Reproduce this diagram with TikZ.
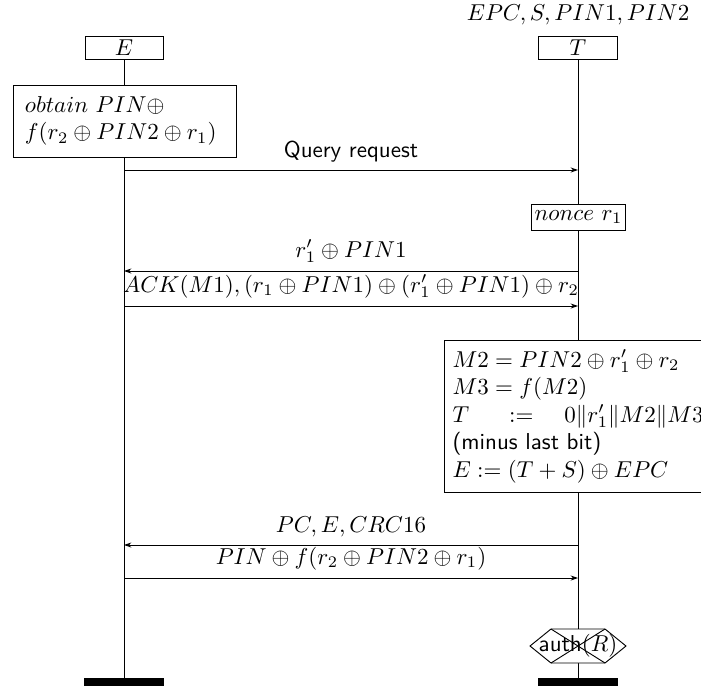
\documentclass[tikz,border=0pt]{standalone}
\usetikzlibrary{arrows.meta}
\tikzset{
  msg/.style={draw, line width=0.4pt, -{Stealth[length=3.2pt,width=2.2pt,inset=1pt]}},
  life/.style={line width=0.4pt},
  inst/.style={draw, fill=white, inner sep=0pt, line width=0.4pt},
  act/.style={draw, fill=white, line width=0.4pt, align=left},
  bar/.style={fill=black},
}
\begin{document}
\begin{tikzpicture}[x=0.435pt,y=-0.435pt]
\clip (0,0) rectangle (701,685);
% header
\node (hdr) at (578,15) {$EPC,S,PIN1,PIN2$};
% instance heads
\node[inst, minimum width=33.9pt, minimum height=10.4pt] (E) at (124,48) {$E$};
\node[inst, minimum width=34.4pt, minimum height=10.4pt] (T) at (578,48) {$T$};
% lifeline ends
\coordinate (Eend) at (124,678);
\coordinate (Tend) at (578,678);
\draw[life] (E.south) -- (Eend);
\draw[life] (T.south) -- (Tend);
% end bars
\fill[bar] (84,678) rectangle (164,686);
\fill[bar] (538,678) rectangle (618,686);
% action on E
\node[act, minimum width=97pt, minimum height=31.3pt, text width=86.6pt, inner xsep=5.2pt] (act1) at (124.5,121)
  {$obtain\ PIN\oplus$\\ $f(r_2\oplus PIN2\oplus r_1)$};
% messages
\coordinate (e1) at (124,170); \coordinate (t1) at (578,170);
\draw[msg] (e1) -- (t1) node[midway, above] {\sffamily Query request};
\node[act, inner sep=0pt, minimum width=40.9pt, minimum height=11.3pt] (nonce) at (578.5,217) {$nonce\ r_1$};
\coordinate (t2) at (578,271); \coordinate (e2) at (124,271);
\draw[msg] (t2) -- (e2) node[midway, above] {$r_1'\oplus PIN1$};
\coordinate (e3) at (124,306); \coordinate (t3) at (578,306);
\draw[msg] (e3) -- (t3) node[midway, above] {$ACK(M1),(r_1\oplus PIN1)\oplus(r_1'\oplus PIN1)\oplus r_2$};
\node[act, anchor=north west, minimum width=121.8pt, minimum height=66.1pt, text width=114.8pt, inner xsep=3.5pt] (calc) at (444,340)
  {$M2=PIN2\oplus r_1'\oplus r_2$\\
   $M3=f(M2)$\\
   $T$\hspace{17.4pt}$:=$\hspace{13.5pt}$0\|r_1'\|M2\|M3$\\
   {\sffamily (minus last bit)}\\
   $E:=(T+S)\oplus EPC$};
\coordinate (t4) at (578,545); \coordinate (e4) at (124,545);
\draw[msg] (t4) -- (e4) node[midway, above] {$PC,E,CRC16$};
\coordinate (e5) at (124,578); \coordinate (t5) at (578,578);
\draw[msg] (e5) -- (t5) node[midway, above] {$PIN\oplus f(r_2\oplus PIN2\oplus r_1)$};
% condition
\draw[fill=white, line width=0.4pt] (530,646) -- (551,629) -- (605,629) -- (626,646) -- (605,663) -- (551,663) -- cycle;
\draw[line width=0.4pt] (551,629) -- (605,663) (551,663) -- (605,629);
\node (cond) at (578,646) {\sffamily auth$(R)$};
\end{tikzpicture}
\end{document}
